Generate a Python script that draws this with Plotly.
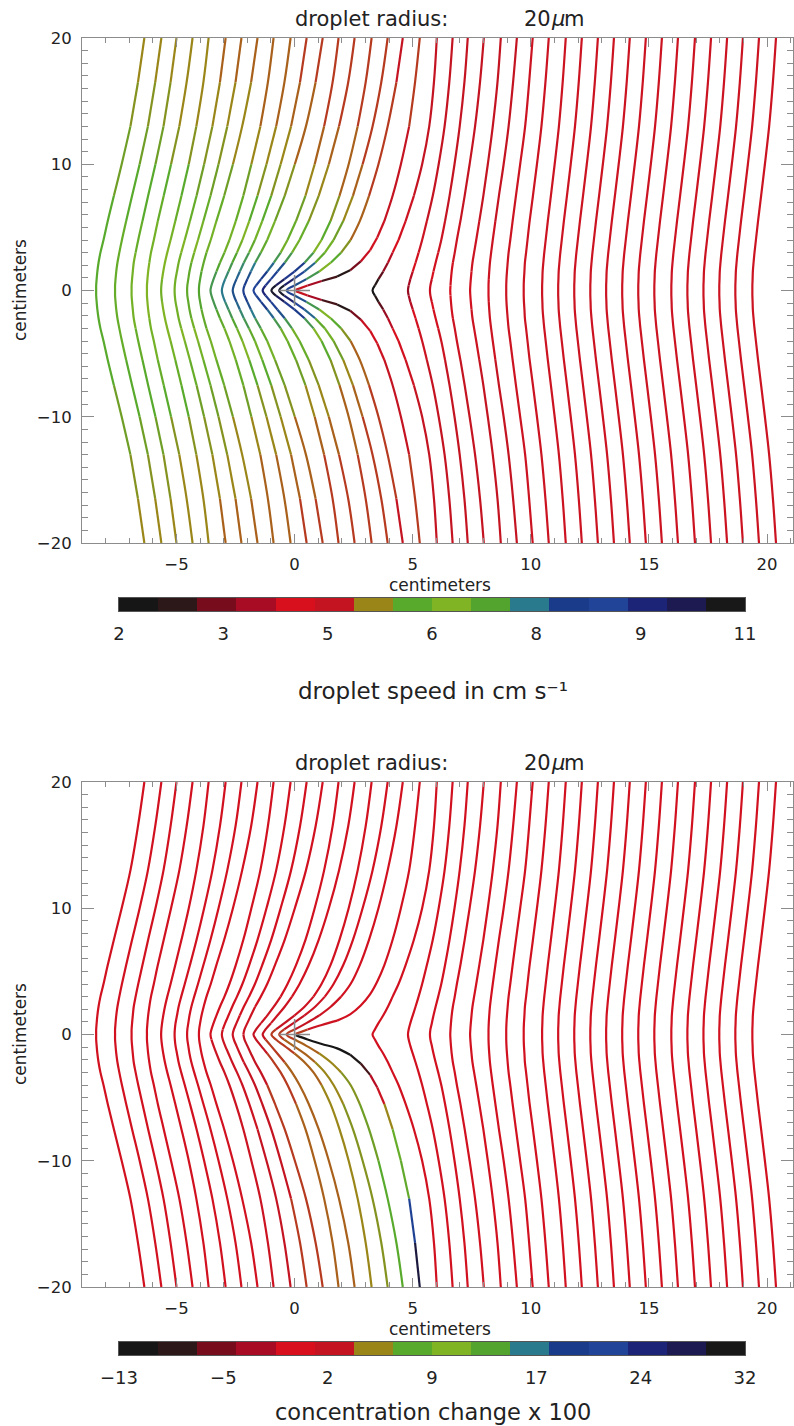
import plotly.graph_objects as go

W, H = 794, 1426
FONT = "DejaVu Sans"

# ---- colour scale: 16 discrete bins (low -> high) ----
BIN_COLORS = ["#161616", "#2c1818", "#760c1c", "#a80c24", "#d8101e", "#c41422",
              "#9a8618", "#58aa2c", "#80b424", "#52a42e", "#2a7a8e", "#1a3a8a",
              "#224498", "#1c2478", "#1c1a50", "#181818"]

SPEED_RANGE = (2.0, 11.0)
SPEED_TICKS = [2, 3.5, 5, 6.5, 8, 9.5, 11]
SPEED_TICKTEXT = ["2", "3", "5", "6", "8", "9", "11"]

CONC_RANGE = (-13.0, 32.0)
CONC_TICKS = [-13, -5.5, 2, 9.5, 17, 24.5, 32]
CONC_TICKTEXT = ["\u221213", "\u22125", "2", "9", "17", "24", "32"]

# ---- trajectories (cm) ----
# heights above the droplet's horizontal axis at which positions are tabulated;
# the paths are symmetric about y = 0
Y_LEVELS = [0, 0.4, 0.9, 1.5, 2.2, 3, 4, 5.5, 7.5, 10, 13, 16.5, 20]

# x position of each passing trajectory at Y_LEVELS
TRAJ_X = [
    [-8.40, -8.40, -8.38, -8.35, -8.30, -8.22, -8.09, -7.91, -7.65, -7.32, -6.95, -6.63, -6.36],
    [-7.60, -7.60, -7.58, -7.55, -7.50, -7.42, -7.31, -7.13, -6.88, -6.56, -6.21, -5.90, -5.64],
    [-6.90, -6.90, -6.88, -6.85, -6.81, -6.73, -6.62, -6.44, -6.20, -5.89, -5.55, -5.25, -5.00],
    [-6.25, -6.25, -6.23, -6.20, -6.15, -6.08, -5.96, -5.79, -5.54, -5.23, -4.88, -4.57, -4.32],
    [-5.65, -5.64, -5.61, -5.56, -5.49, -5.39, -5.25, -5.05, -4.79, -4.48, -4.16, -3.86, -3.64],
    [-5.08, -5.07, -5.04, -4.98, -4.91, -4.80, -4.65, -4.43, -4.15, -3.83, -3.48, -3.16, -2.92],
    [-4.55, -4.54, -4.50, -4.45, -4.37, -4.25, -4.09, -3.86, -3.56, -3.22, -2.85, -2.50, -2.25],
    [-4.05, -4.04, -4.00, -3.94, -3.85, -3.73, -3.55, -3.31, -2.98, -2.61, -2.22, -1.84, -1.57],
    [-3.56, -3.52, -3.43, -3.31, -3.16, -2.97, -2.76, -2.49, -2.17, -1.83, -1.45, -1.13, -0.89],
    [-3.08, -3.04, -2.94, -2.80, -2.64, -2.44, -2.21, -1.92, -1.57, -1.19, -0.78, -0.43, -0.17],
    [-2.62, -2.57, -2.46, -2.32, -2.15, -1.93, -1.68, -1.37, -0.99, -0.59, -0.15, 0.23, 0.51],
    [-2.17, -2.12, -2.00, -1.85, -1.67, -1.43, -1.16, -0.83, -0.42, 0.01, 0.48, 0.89, 1.19],
    [-1.74, -1.63, -1.42, -1.16, -0.88, -0.59, -0.30, 0.06, 0.46, 0.85, 1.25, 1.61, 1.86],
    [-1.35, -1.23, -1.00, -0.73, -0.42, -0.11, 0.21, 0.60, 1.02, 1.45, 1.88, 2.27, 2.54],
    [-0.98, -0.79, -0.43, -0.01, 0.42, 0.80, 1.14, 1.52, 1.90, 2.29, 2.67, 3.01, 3.26],
    [-0.65, -0.44, -0.05, 0.41, 0.87, 1.28, 1.65, 2.06, 2.47, 2.88, 3.30, 3.67, 3.94],
    [-0.34, 0.00, 0.50, 1.04, 1.53, 1.97, 2.37, 2.76, 3.15, 3.55, 3.94, 4.31, 4.58],
    [3.30, 3.40, 3.55, 3.75, 3.95, 4.15, 4.40, 4.70, 5.05, 5.40, 5.70, 5.90, 6.02],
    [4.80, 4.83, 4.90, 5.00, 5.12, 5.25, 5.40, 5.60, 5.85, 6.10, 6.35, 6.55, 6.69],
    [5.73, 5.75, 5.81, 5.88, 5.97, 6.08, 6.21, 6.37, 6.56, 6.77, 6.99, 7.19, 7.33],
    [6.59, 6.60, 6.62, 6.65, 6.70, 6.78, 6.87, 7.02, 7.20, 7.41, 7.64, 7.85, 8.01],
    [7.43, 7.44, 7.46, 7.49, 7.53, 7.60, 7.69, 7.82, 7.99, 8.18, 8.39, 8.59, 8.73],
    [8.21, 8.21, 8.22, 8.24, 8.27, 8.32, 8.39, 8.50, 8.65, 8.85, 9.06, 9.25, 9.41],
    [8.96, 8.96, 8.97, 8.99, 9.02, 9.06, 9.13, 9.23, 9.37, 9.55, 9.76, 9.93, 10.08],
    [9.70, 9.70, 9.71, 9.73, 9.75, 9.80, 9.86, 9.95, 10.09, 10.26, 10.45, 10.62, 10.76],
    [10.48, 10.48, 10.49, 10.50, 10.53, 10.57, 10.63, 10.72, 10.85, 11.01, 11.19, 11.35, 11.48],
    [11.16, 11.16, 11.17, 11.18, 11.21, 11.25, 11.31, 11.40, 11.53, 11.69, 11.87, 12.03, 12.16],
    [11.84, 11.84, 11.85, 11.86, 11.89, 11.93, 11.99, 12.08, 12.21, 12.37, 12.55, 12.71, 12.84],
    [12.52, 12.52, 12.53, 12.54, 12.57, 12.61, 12.67, 12.76, 12.89, 13.05, 13.23, 13.39, 13.52],
    [13.19, 13.19, 13.20, 13.21, 13.24, 13.28, 13.34, 13.43, 13.56, 13.72, 13.90, 14.06, 14.19],
    [13.87, 13.87, 13.88, 13.89, 13.92, 13.96, 14.02, 14.11, 14.24, 14.40, 14.58, 14.74, 14.87],
    [14.55, 14.55, 14.56, 14.57, 14.60, 14.64, 14.70, 14.79, 14.92, 15.08, 15.26, 15.42, 15.55],
    [15.23, 15.23, 15.24, 15.25, 15.28, 15.32, 15.38, 15.47, 15.60, 15.76, 15.94, 16.10, 16.23],
    [15.95, 15.95, 15.96, 15.97, 16.00, 16.04, 16.10, 16.19, 16.32, 16.48, 16.66, 16.82, 16.95],
    [16.63, 16.63, 16.64, 16.65, 16.68, 16.72, 16.78, 16.87, 17.00, 17.16, 17.34, 17.50, 17.63],
    [17.31, 17.31, 17.32, 17.33, 17.36, 17.40, 17.46, 17.55, 17.68, 17.84, 18.02, 18.18, 18.31],
    [17.98, 17.98, 17.99, 18.00, 18.03, 18.07, 18.13, 18.22, 18.35, 18.51, 18.69, 18.85, 18.98],
    [18.66, 18.66, 18.67, 18.68, 18.71, 18.75, 18.81, 18.90, 19.03, 19.19, 19.37, 19.53, 19.66],
    [19.38, 19.38, 19.39, 19.40, 19.43, 19.47, 19.53, 19.62, 19.75, 19.91, 20.09, 20.25, 20.38],
]

# trajectory that ends on the droplet (upper branch; the lower branch is its mirror)
HIT_Y = [0.05, 0.4, 0.75, 1.1, 1.6, 2.3, 3.2, 4.2, 5.5, 7.5, 10, 13, 16.5, 20]
HIT_X = [0.05, 0.55, 1.15, 1.8, 2.35, 2.8, 3.2, 3.5, 3.8, 4.15, 4.5, 4.85, 5.1, 5.30]

# droplet speed (cm/s) along each passing trajectory at Y_LEVELS (a single number = constant)
SPEED = [
    [6.3, 6.3, 6.3, 6.3, 6.3, 6.29, 6.27, 6.23, 6.17, 6.08, 5.95, 5.78, 5.65],
    [6.45, 6.45, 6.45, 6.44, 6.42, 6.4, 6.36, 6.3, 6.2, 6.06, 5.9, 5.74, 5.62],
    [6.6, 6.6, 6.59, 6.57, 6.55, 6.51, 6.46, 6.38, 6.24, 6.05, 5.85, 5.7, 5.58],
    [6.75, 6.75, 6.73, 6.71, 6.68, 6.63, 6.56, 6.45, 6.27, 6.04, 5.8, 5.66, 5.55],
    [6.9, 6.89, 6.87, 6.84, 6.8, 6.74, 6.65, 6.5, 6.28, 6.0, 5.76, 5.62, 5.52],
    [7.05, 7.04, 7.01, 6.97, 6.92, 6.84, 6.72, 6.54, 6.28, 5.96, 5.72, 5.58, 5.48],
    [7.2, 7.18, 7.15, 7.1, 7.03, 6.92, 6.77, 6.55, 6.25, 5.92, 5.68, 5.54, 5.45],
    [7.4, 7.37, 7.32, 7.25, 7.15, 7.0, 6.82, 6.55, 6.2, 5.87, 5.63, 5.5, 5.42],
    [7.6, 7.56, 7.5, 7.4, 7.27, 7.08, 6.85, 6.52, 6.14, 5.82, 5.58, 5.46, 5.38],
    [7.95, 7.9, 7.8, 7.65, 7.45, 7.2, 6.9, 6.5, 6.08, 5.76, 5.54, 5.42, 5.35],
    [8.4, 8.32, 8.15, 7.93, 7.65, 7.3, 6.9, 6.45, 6.0, 5.7, 5.5, 5.38, 5.32],
    [8.75, 8.63, 8.4, 8.1, 7.75, 7.35, 6.85, 6.35, 5.9, 5.63, 5.45, 5.34, 5.29],
    [9.1, 8.95, 8.65, 8.25, 7.8, 7.3, 6.75, 6.22, 5.8, 5.56, 5.41, 5.31, 5.26],
    [9.7, 9.5, 9.05, 8.5, 7.9, 7.25, 6.62, 6.1, 5.7, 5.5, 5.37, 5.28, 5.24],
    [10.6, 10.3, 9.6, 8.8, 8.0, 7.2, 6.5, 5.95, 5.62, 5.45, 5.33, 5.25, 5.22],
    [10.7, 10.3, 9.4, 8.5, 7.6, 6.85, 6.2, 5.8, 5.52, 5.38, 5.29, 5.23, 5.2],
    [9.0, 8.6, 7.9, 7.1, 6.5, 6.0, 5.65, 5.45, 5.35, 5.28, 5.22, 5.19, 5.18],
    [2.2, 2.4, 2.9, 3.5, 4.0, 4.4, 4.7, 4.9, 5.0, 5.1, 5.15, 5.18, 5.18],
    [3.8, 3.9, 4.1, 4.35, 4.55, 4.75, 4.9, 5.0, 5.05, 5.1, 5.13, 5.16, 5.16],
    [4.3, 4.35, 4.45, 4.6, 4.75, 4.85, 4.95, 5.0, 5.05, 5.1, 5.12, 5.14, 5.14],
    [4.6, 4.62, 4.66, 4.72, 4.8, 4.87, 4.93, 5.0, 5.03, 5.06, 5.08, 5.1, 5.1],
    [4.7, 4.72, 4.75, 4.8, 4.85, 4.9, 4.95, 5.0, 5.03, 5.05, 5.07, 5.08, 5.08],
    [4.8, 4.8, 4.82, 4.85, 4.88, 4.92, 4.96, 5.0, 5.02, 5.04, 5.05, 5.06, 5.06],
] + [5.0] * 17
HIT_SPEED = [5.5, 4.7, 3.4, 2.5, 3.0, 4.0, 4.6, 4.85, 5.0, 5.1, 5.15, 5.18, 5.2, 5.2]

# concentration change (x100) along the trajectories: upper and lower branch at Y_LEVELS
CONC_BASE = 0.5
CONC_UPPER = {
    8: [1.0, 0.95, 0.9, 0.85, 0.8, 0.7, 0.6, 0.5, 0.5, 0.5, 0.5, 0.5, 0.5],
    9: [1.2, 1.1, 1.0, 0.9, 0.8, 0.7, 0.6, 0.5, 0.5, 0.5, 0.5, 0.5, 0.5],
    10: [1.5, 1.4, 1.2, 1.0, 0.85, 0.7, 0.6, 0.5, 0.5, 0.5, 0.5, 0.5, 0.5],
    11: [2.0, 1.8, 1.6, 1.35, 1.1, 0.9, 0.7, 0.6, 0.5, 0.5, 0.5, 0.5, 0.5],
    12: [2.4, 2.2, 1.9, 1.6, 1.3, 1.0, 0.8, 0.6, 0.5, 0.5, 0.5, 0.5, 0.5],
    13: [2.8, 2.5, 2.1, 1.7, 1.4, 1.1, 0.8, 0.6, 0.5, 0.5, 0.5, 0.5, 0.5],
    14: [3.2, 2.8, 2.3, 1.8, 1.4, 1.1, 0.8, 0.6, 0.5, 0.5, 0.5, 0.5, 0.5],
    15: [3.4, 3.0, 2.4, 1.9, 1.4, 1.1, 0.8, 0.6, 0.5, 0.5, 0.5, 0.5, 0.5],
    16: [3.6, 3.1, 2.5, 1.9, 1.4, 1.1, 0.8, 0.6, 0.5, 0.5, 0.5, 0.5, 0.5],
}
CONC_LOWER = {
    8: [1.0, 1.05, 1.1, 1.15, 1.2, 1.25, 1.3, 1.35, 1.4, 1.5, 1.55, 1.6, 1.6],
    9: [1.2, 1.3, 1.4, 1.5, 1.6, 1.7, 1.8, 1.9, 2.0, 2.1, 2.2, 2.3, 2.3],
    10: [1.5, 1.6, 1.75, 1.9, 2.05, 2.2, 2.35, 2.5, 2.65, 2.8, 2.9, 3.0, 3.0],
    11: [2.0, 2.1, 2.25, 2.4, 2.6, 2.8, 3.0, 3.2, 3.35, 3.45, 3.55, 3.6, 3.6],
    12: [2.4, 2.6, 2.8, 3.0, 3.25, 3.45, 3.65, 3.85, 4.0, 4.1, 4.15, 4.2, 4.2],
    13: [2.8, 3.0, 3.3, 3.6, 3.9, 4.15, 4.35, 4.55, 4.7, 4.75, 4.8, 4.8, 4.8],
    14: [3.2, 3.4, 3.7, 4.0, 4.35, 4.65, 4.9, 5.1, 5.25, 5.35, 5.4, 5.4, 5.4],
    15: [3.4, 3.7, 4.1, 4.5, 4.9, 5.3, 5.6, 5.9, 6.1, 6.25, 6.35, 6.4, 6.4],
    16: [3.6, 3.9, 4.3, 4.8, 5.3, 5.8, 6.3, 6.8, 7.3, 7.7, 7.95, 8.1, 8.2],
}
HIT_CONC_UPPER = [4.5, 2.5, 1.5, 1.0, 0.8, 0.6, 0.5, 0.5, 0.5, 0.5, 0.5, 0.5, 0.5, 0.5]
HIT_CONC_LOWER = [-12, -12, -12, -12, -11.5, -10, -5, 0, 4, 7.5, 10, 16, 26, 32]


# ---- helpers ----
def _rgb(h):
    return tuple(int(h[i:i + 2], 16) for i in (1, 3, 5))


BIN_RGB = [_rgb(c) for c in BIN_COLORS]


def value_color(v, vrange):
    """Colour for a value, blended between neighbouring bins in thirds of a bin."""
    vmin, vmax = vrange
    n = len(BIN_RGB)
    t = (v - vmin) / (vmax - vmin) * n - 0.5
    t = round(min(max(t, 0.0), n - 1.0) * 3) / 3
    i = min(int(t), n - 2)
    f = t - i
    c = [round(BIN_RGB[i][k] * (1 - f) + BIN_RGB[i + 1][k] * f) for k in range(3)]
    return "#%02x%02x%02x" % tuple(c)


def as_list(v, n):
    return list(v) if isinstance(v, (list, tuple)) else [v] * n


def add_path(groups, xs, ys, vs, vrange):
    """Split a path into runs of equal colour and collect the runs per colour."""
    run_x, run_y, run_c = [xs[0]], [ys[0]], None
    for i in range(len(xs) - 1):
        col = value_color(0.5 * (vs[i] + vs[i + 1]), vrange)
        if run_c is not None and col != run_c:
            g = groups.setdefault(run_c, ([], []))
            g[0].extend(run_x + [None]); g[1].extend(run_y + [None])
            run_x, run_y = [xs[i]], [ys[i]]
        run_c = col
        run_x.append(xs[i + 1]); run_y.append(ys[i + 1])
    g = groups.setdefault(run_c, ([], []))
    g[0].extend(run_x + [None]); g[1].extend(run_y + [None])


def full_path(x_half, lower_vals, upper_vals):
    ys = [-y for y in Y_LEVELS[::-1]] + Y_LEVELS[1:]
    xs = x_half[::-1] + x_half[1:]
    vs = lower_vals[::-1] + upper_vals[1:]
    return xs, ys, vs


n = len(Y_LEVELS)
speed_groups, conc_groups = {}, {}
for k, xh in enumerate(TRAJ_X):
    sp = as_list(SPEED[k], n)
    xs, ys, vs = full_path(xh, sp, sp)
    add_path(speed_groups, xs, ys, vs, SPEED_RANGE)
    cu = as_list(CONC_UPPER.get(k, CONC_BASE), n)
    cl = as_list(CONC_LOWER.get(k, CONC_BASE), n)
    xs, ys, vs = full_path(xh, cl, cu)
    add_path(conc_groups, xs, ys, vs, CONC_RANGE)

# branches ending on the droplet
add_path(speed_groups, HIT_X, HIT_Y, HIT_SPEED, SPEED_RANGE)
add_path(speed_groups, HIT_X, [-y for y in HIT_Y], HIT_SPEED, SPEED_RANGE)
add_path(conc_groups, HIT_X, HIT_Y, HIT_CONC_UPPER, CONC_RANGE)
add_path(conc_groups, HIT_X, [-y for y in HIT_Y], HIT_CONC_LOWER, CONC_RANGE)

fig = go.Figure()

for groups, xa, ya in ((speed_groups, "x", "y"), (conc_groups, "x2", "y2")):
    for col, (gx, gy) in groups.items():
        fig.add_trace(go.Scatter(x=gx, y=gy, mode="lines", xaxis=xa, yaxis=ya,
                                 line=dict(color=col, width=2.2, shape="spline",
                                           smoothing=1.0),
                                 hoverinfo="skip", showlegend=False))
    # the droplet
    fig.add_trace(go.Scatter(x=[0], y=[0], mode="markers", xaxis=xa, yaxis=ya,
                             marker=dict(symbol="cross-thin", size=22,
                                         line=dict(color="#8a8a8a", width=1.5)),
                             hoverinfo="skip", showlegend=False))


# colour bars drawn as one-row heatmaps
def bar_trace(vrange, xa, ya):
    vmin, vmax = vrange
    nb = len(BIN_COLORS)
    step = (vmax - vmin) / nb
    edges = [vmin + i * step for i in range(nb + 1)]
    centres = [vmin + (i + 0.5) * step for i in range(nb)]
    scale = []
    for i, c in enumerate(BIN_COLORS):
        scale.append([i / nb, c])
        scale.append([(i + 1) / nb, c])
    return go.Heatmap(x=edges, y=[0, 1], z=[centres], zmin=vmin, zmax=vmax,
                      colorscale=scale, showscale=False, xaxis=xa, yaxis=ya,
                      hoverinfo="skip")


fig.add_trace(bar_trace(SPEED_RANGE, "x3", "y3"))
fig.add_trace(bar_trace(CONC_RANGE, "x4", "y4"))


def py(p):
    return 1 - p / H


AX = "#8c8c8c"
TXT = "#222222"
x_dom = [82 / W, 793 / W]
bar_dom = [119 / W, 745 / W]

xcommon = dict(range=[-9, 21.1], tick0=0, dtick=5, ticks="inside", ticklen=9,
               tickcolor=AX, showline=True, linecolor=AX, linewidth=1, mirror="allticks",
               showgrid=False, zeroline=False, domain=x_dom, automargin=False,
               tickfont=dict(family=FONT, size=16.5, color=TXT), ticklabelstandoff=6,
               minor=dict(dtick=1, tick0=0, ticks="inside", ticklen=5, tickcolor=AX))
ycommon = dict(range=[-20, 20], tick0=0, dtick=10, ticks="inside", ticklen=12,
               tickcolor=AX, showline=True, linecolor=AX, linewidth=1, mirror="allticks",
               showgrid=False, zeroline=False, automargin=False,
               tickfont=dict(family=FONT, size=16.5, color=TXT), ticklabelstandoff=6,
               minor=dict(dtick=1, tick0=0, ticks="inside", ticklen=6, tickcolor=AX))

bcommon_y = dict(range=[0, 1], showticklabels=False, ticks="", showgrid=False,
                 zeroline=False, showline=True, linecolor="#555555", linewidth=1,
                 mirror=True, fixedrange=True, automargin=False)


def bcommon_x(vrange, tv, tt):
    return dict(range=list(vrange), tickvals=tv, ticktext=tt, ticks="", showgrid=False,
                zeroline=False, showline=True, linecolor="#555555", linewidth=1,
                mirror=True, domain=bar_dom, ticklabelstandoff=6, automargin=False,
                tickfont=dict(family=FONT, size=18, color=TXT))


fig.update_layout(
    width=W, height=H, margin=dict(l=0, r=0, t=0, b=0, autoexpand=False),
    paper_bgcolor="white", plot_bgcolor="white", showlegend=False,
    xaxis=dict(xcommon, anchor="y"),
    yaxis=dict(ycommon, anchor="x", domain=[py(543), py(38)]),
    xaxis2=dict(xcommon, anchor="y2"),
    yaxis2=dict(ycommon, anchor="x2", domain=[py(1287), py(782)]),
    xaxis3=dict(bcommon_x(SPEED_RANGE, SPEED_TICKS, SPEED_TICKTEXT), anchor="y3"),
    yaxis3=dict(bcommon_y, anchor="x3", domain=[py(611), py(598)]),
    xaxis4=dict(bcommon_x(CONC_RANGE, CONC_TICKS, CONC_TICKTEXT), anchor="y4"),
    yaxis4=dict(bcommon_y, anchor="x4", domain=[py(1355), py(1342)]),
)

ann = []


def text(s, x, y, size, angle=0, anchor="center", style="normal"):
    ann.append(dict(text=s, x=x / W, y=py(y), xref="paper", yref="paper",
                    xanchor=anchor, yanchor="middle", showarrow=False, textangle=angle,
                    font=dict(family=FONT, size=size, color=TXT, style=style)))


for off in (0, 744):
    text("droplet radius:", 371, 19 + off, 21)
    text("20", 522, 19 + off, 21, anchor="left")
    text("\u03bc", 548.5, 19 + off, 21, anchor="left", style="italic")
    text("m", 562, 19 + off, 21, anchor="left")
    text("centimeters", 440, 585 + off, 17)
    text("centimeters", 20, 290 + off, 17, angle=-90)
text("droplet speed in cm s\u207b\u00b9", 433, 691, 23)
text("concentration change x 100", 433, 1412, 22.5)

fig.update_layout(annotations=ann)
fig.write_html("out.html")
